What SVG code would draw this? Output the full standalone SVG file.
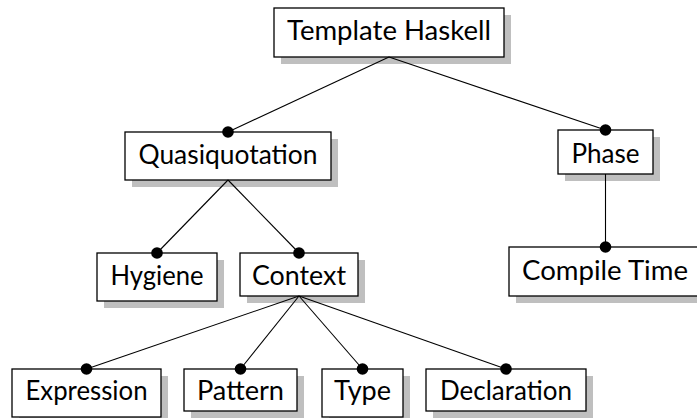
<svg xmlns="http://www.w3.org/2000/svg" width="697" height="418" viewBox="0 0 697 418">
  <defs>
    <style>
      .shadow { fill: #bfbfbf; }
      .box { fill: #ffffff; stroke: #000000; stroke-width: 1.3; }
      .label { font-family: Lato, "DejaVu Sans", sans-serif; font-size: 26px; fill: #000000; text-anchor: middle; }
      .edge { stroke: #000000; stroke-width: 1.1; fill: none; }
      .dot { fill: #000000; }
    </style>
  </defs>
  <rect width="697" height="418" fill="#ffffff"/>

  <g id="node-template-haskell">
    <rect class="shadow" x="281" y="15" width="230" height="49"/>
    <rect class="box" x="274" y="8" width="230" height="49"/>
    <text class="label" x="389" y="40" textLength="204" lengthAdjust="spacingAndGlyphs">Template Haskell</text>
  </g>
  <g id="node-quasiquotation">
    <rect class="shadow" x="132" y="139" width="206" height="48"/>
    <rect class="box" x="125" y="132" width="206" height="48"/>
    <text class="label" x="228" y="164" textLength="179" lengthAdjust="spacingAndGlyphs">Quasiquotation</text>
  </g>
  <g id="node-phase">
    <rect class="shadow" x="565" y="137" width="95" height="44"/>
    <rect class="box" x="558" y="130" width="95" height="44"/>
    <text class="label" x="605.5" y="163" textLength="68" lengthAdjust="spacingAndGlyphs">Phase</text>
  </g>
  <g id="node-hygiene">
    <rect class="shadow" x="104" y="260" width="120" height="48"/>
    <rect class="box" x="97" y="253" width="120" height="48"/>
    <text class="label" x="157" y="285" textLength="93" lengthAdjust="spacingAndGlyphs">Hygiene</text>
  </g>
  <g id="node-context">
    <rect class="shadow" x="247" y="260" width="118" height="43"/>
    <rect class="box" x="240" y="253" width="118" height="43"/>
    <text class="label" x="299" y="285" textLength="94" lengthAdjust="spacingAndGlyphs">Context</text>
  </g>
  <g id="node-compile-time">
    <rect class="shadow" x="516" y="254" width="192" height="49"/>
    <rect class="box" x="509" y="247" width="192" height="49"/>
    <text class="label" x="605" y="280" textLength="166" lengthAdjust="spacingAndGlyphs">Compile Time</text>
  </g>
  <g id="node-expression">
    <rect class="shadow" x="19" y="376" width="149" height="48"/>
    <rect class="box" x="12" y="369" width="149" height="48"/>
    <text class="label" x="86.5" y="400" textLength="122" lengthAdjust="spacingAndGlyphs">Expression</text>
  </g>
  <g id="node-pattern">
    <rect class="shadow" x="191" y="376" width="113" height="42"/>
    <rect class="box" x="184" y="369" width="113" height="42"/>
    <text class="label" x="240.5" y="400" textLength="87" lengthAdjust="spacingAndGlyphs">Pattern</text>
  </g>
  <g id="node-type">
    <rect class="shadow" x="329" y="376" width="81" height="48"/>
    <rect class="box" x="322" y="369" width="81" height="48"/>
    <text class="label" x="362.5" y="400" textLength="57" lengthAdjust="spacingAndGlyphs">Type</text>
  </g>
  <g id="node-declaration">
    <rect class="shadow" x="433" y="376" width="160" height="42"/>
    <rect class="box" x="426" y="369" width="160" height="42"/>
    <text class="label" x="506" y="400" textLength="132" lengthAdjust="spacingAndGlyphs">Declaration</text>
  </g>

  <g id="connectors">
    <line class="edge" x1="389" y1="57" x2="228" y2="132"/>
    <line class="edge" x1="389" y1="57" x2="605.5" y2="130"/>
    <line class="edge" x1="228" y1="180" x2="157" y2="253"/>
    <line class="edge" x1="228" y1="180" x2="299" y2="253"/>
    <line class="edge" x1="605.5" y1="174" x2="605.5" y2="247"/>
    <line class="edge" x1="299" y1="296" x2="86.5" y2="369"/>
    <line class="edge" x1="299" y1="296" x2="240.5" y2="369"/>
    <line class="edge" x1="299" y1="296" x2="362.5" y2="369"/>
    <line class="edge" x1="299" y1="296" x2="506" y2="369"/>
    <circle class="dot" cx="228" cy="132" r="5.8"/>
    <circle class="dot" cx="605.5" cy="130" r="5.8"/>
    <circle class="dot" cx="157" cy="253" r="5.8"/>
    <circle class="dot" cx="299" cy="253" r="5.8"/>
    <circle class="dot" cx="605.5" cy="247" r="5.8"/>
    <circle class="dot" cx="86.5" cy="369" r="5.8"/>
    <circle class="dot" cx="240.5" cy="369" r="5.8"/>
    <circle class="dot" cx="362.5" cy="369" r="5.8"/>
    <circle class="dot" cx="506" cy="369" r="5.8"/>
  </g>
</svg>
